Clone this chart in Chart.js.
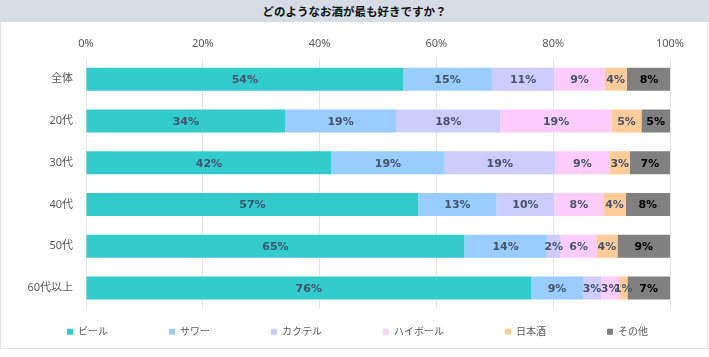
<!DOCTYPE html>
<html>
<head>
<meta charset="utf-8">
<script src="https://cdn.jsdelivr.net/npm/chart.js@4"></script>
<style>
  html, body { margin: 0; padding: 0; background: #ffffff; }
  #wrap { position: relative; width: 709px; height: 357px; overflow: hidden; }
  #banner { position: absolute; left: 0; top: 0; width: 709px; height: 22px; background: #D6DCE4;
    font: bold 11.5px 'Noto Sans CJK JP', sans-serif; color: #111; text-align: center; line-height: 23px; }
  #frame { position: absolute; left: 0; top: 22px; width: 706px; height: 326px; border: 1px solid #E3E3E3; border-top: none; }
  #cv { position: absolute; left: 0; top: 22px; }
</style>
</head>
<body>
<div id="wrap">
  <div id="banner">どのようなお酒が最も好きですか？</div>
  <div id="frame"></div>
  <canvas id="cv" width="709" height="327"></canvas>
</div>
<script>
const categories = ['全体', '20代', '30代', '40代', '50代', '60代以上'];
const seriesNames = ['ビール', 'サワー', 'カクテル', 'ハイボール', '日本酒', 'その他'];
const beer     = [54.3, 34.1, 42.0, 56.9, 64.8, 76.2];
const sour     = [15.2, 19.0, 19.4, 13.4, 14.1, 8.9];
const cocktail = [10.7, 17.9, 18.9, 9.9, 2.4, 3.1];
const highball = [8.6, 19.0, 9.4, 8.4, 6.1, 3.1];
const sake     = [3.8, 5.1, 3.4, 3.8, 3.6, 1.4];
const other    = [7.6, 4.9, 6.9, 7.6, 9.0, 7.3];
const xTicks   = [0, 20, 40, 60, 80, 100];

const seriesValues = [beer, sour, cocktail, highball, sake, other];
const colors = ['#33CCCC', '#99CCFF', '#CCCCFF', '#FFCCFF', '#FFCC99', '#808080'];
const labelColors = ['#44546A', '#44546A', '#44546A', '#44546A', '#44546A', '#000000'];

const LEGEND_PAD = 61;
const CANVAS_W = 709;

const valueLabels = {
  id: 'valueLabels',
  afterDatasetsDraw(chart) {
    const ctx = chart.ctx;
    ctx.save();
    ctx.font = "bold 11px 'DejaVu Sans', sans-serif";
    ctx.textAlign = 'center';
    ctx.textBaseline = 'middle';
    chart.data.datasets.forEach((ds, di) => {
      const meta = chart.getDatasetMeta(di);
      ctx.fillStyle = labelColors[di];
      meta.data.forEach((el, i) => {
        const p = el.getProps(['x', 'y', 'base'], true);
        const cx = (p.x + p.base) / 2;
        ctx.fillText(Math.round(ds.data[i]) + '%', cx, p.y + 1);
      });
    });
    ctx.restore();
  }
};

const legendShift = {
  id: 'legendShift',
  beforeLayout(chart) {
    const lg = chart.legend;
    if (lg && !lg._oneRowPatch) {
      const orig = lg._fitRows;
      lg._fitRows = function (...args) {
        const mw = this.maxWidth;
        this.maxWidth = 10000;
        const r = orig.apply(this, args);
        this.maxWidth = mw;
        return r;
      };
      lg._oneRowPatch = true;
    }
  },
  afterLayout(chart) {
    const lg = chart.legend;
    if (lg) {
      lg.top = 304.7 - LEGEND_PAD;
      lg.left = 3;
      lg.right = CANVAS_W + 3;
      lg.width = CANVAS_W;
    }
  }
};

new Chart(document.getElementById('cv'), {
  type: 'bar',
  data: {
    labels: categories,
    datasets: seriesNames.map((name, i) => ({
      label: name,
      data: seriesValues[i],
      backgroundColor: colors[i],
      borderWidth: 0,
      barPercentage: 0.55,
      categoryPercentage: 1.0
    }))
  },
  options: {
    indexAxis: 'y',
    responsive: false,
    animation: false,
    layout: { padding: { left: 0, right: 39, top: 0, bottom: 0 } },
    scales: {
      x: {
        position: 'top',
        stacked: true,
        min: 0,
        max: 100,
        afterBuildTicks(scale) { scale.ticks = xTicks.map(v => ({ value: v })); },
        afterFit(scale) { scale.height = 36.3; },
        ticks: {
          callback: v => v + '%',
          color: '#595959',
          padding: 8,
          font: { family: "'Noto Sans', 'Noto Sans CJK JP', sans-serif", size: 11 }
        },
        grid: { color: '#E3E3E3', drawTicks: false },
        border: { display: false }
      },
      y: {
        stacked: true,
        afterFit(scale) { scale.width = 86; },
        ticks: {
          color: '#595959',
          padding: 13,
          font: { family: "'Noto Sans', 'Noto Sans CJK JP', sans-serif", size: 11 }
        },
        grid: { display: false, drawTicks: false },
        border: { display: false }
      }
    },
    plugins: {
      title: { display: false },
      tooltip: { enabled: false },
      legend: {
        position: 'bottom',
        maxHeight: 40,
        labels: {
          boxWidth: 6,
          boxHeight: 6,
          padding: LEGEND_PAD,
          color: '#595959',
          font: { family: "'Noto Sans CJK JP', sans-serif", size: 10 }
        }
      }
    }
  },
  plugins: [valueLabels, legendShift]
});
</script>
</body>
</html>
